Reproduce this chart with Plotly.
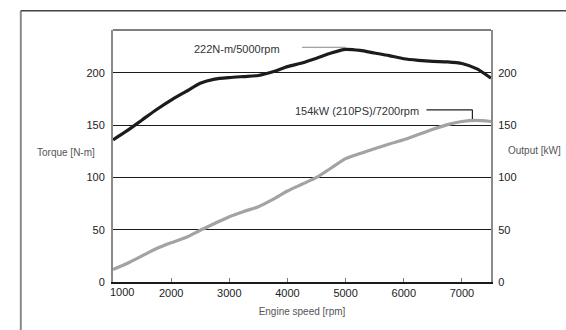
import plotly.graph_objects as go

# ---- data ----
rpm = [1000, 1250, 1500, 1750, 2000, 2250, 2500, 2750, 3000, 3250, 3500, 3750,
       4000, 4250, 4500, 4750, 5000, 5250, 5500, 5750, 6000, 6250, 6500, 6750,
       7000, 7250, 7500]
torque = [136, 145, 155, 165, 174, 182, 190, 194, 195.5, 196.5, 197.5, 201,
          206, 209.5, 214, 219, 222.5, 221.5, 219, 216.5, 213.5, 212, 211, 210.5,
          209, 204, 195]
power = [12, 18, 25, 32, 37.5, 42.5, 49.5, 56, 62.5, 67.5, 72, 79,
         87, 93.5, 100, 109, 118, 123, 127.5, 132, 136, 141, 146, 150.5,
         153.5, 154.5, 153.5]
y_ticks = [0, 50, 100, 150, 200]
x_ticks = [2000, 3000, 4000, 5000, 6000, 7000]
x_first_label = 1000
torque_note = "222N-m/5000rpm"
torque_peak = (5000, 224.5)
power_note = "154kW (210PS)/7200rpm"
power_peak = (7180, 156)

FONT = "Liberation Sans, Arial, Helvetica, sans-serif"

fig = go.Figure()
fig.add_trace(go.Scatter(x=rpm, y=power, mode="lines", yaxis="y2",
                         line=dict(color="#a3a3a3", width=3.2, shape="spline", smoothing=0.6),
                         hoverinfo="skip", showlegend=False))
fig.add_trace(go.Scatter(x=rpm, y=torque, mode="lines",
                         line=dict(color="#1c1c1c", width=3.2, shape="spline", smoothing=0.6),
                         hoverinfo="skip", showlegend=False))

yr = [0, 241]
fig.update_layout(
    width=566, height=330,
    margin=dict(l=113, r=75, t=30, b=48),
    paper_bgcolor="white", plot_bgcolor="white",
    font=dict(family=FONT, size=11, color="#222"),
    xaxis=dict(range=[1000, 7500], tickvals=x_ticks, ticks="inside", ticklen=4,
               tickcolor="#777", tickwidth=1, showgrid=False, zeroline=False,
               showline=True, linecolor="#1a1a1a", linewidth=2,
               tickfont=dict(size=11, color="#222"),
               title=dict(text="Engine speed [rpm]", font=dict(size=10, color="#555"), standoff=10)),
    yaxis=dict(range=yr, tickvals=y_ticks, showgrid=True, gridcolor="#1a1a1a", gridwidth=1,
               zeroline=False, showline=True, linecolor="#8a8a8a", linewidth=2,
               ticks="", ticklabelstandoff=4, tickfont=dict(size=11, color="#222")),
    yaxis2=dict(range=yr, tickvals=y_ticks, overlaying="y", side="right", showgrid=False,
                zeroline=False, showline=True, linecolor="#8a8a8a", linewidth=2,
                ticks="", ticklabelstandoff=3, tickfont=dict(size=11, color="#222")),
    shapes=[
        # plot top border
        dict(type="line", xref="paper", yref="paper", x0=0, x1=1, y0=1, y1=1,
             line=dict(color="#555", width=1.5)),
        # outer frame
        dict(type="line", xref="paper", yref="paper", x0=-0.2439, x1=-0.2439, y0=-0.3, y1=1.0765,
             line=dict(color="#8a8a8a", width=2)),
        dict(type="line", xref="paper", yref="paper", x0=-0.2439, x1=1.3, y0=1.0765, y1=1.0765,
             line=dict(color="#444", width=1.5)),
        # torque leader
        dict(type="line", xref="x", yref="y", x0=4250, x1=torque_peak[0],
             y0=torque_peak[1], y1=torque_peak[1], line=dict(color="#888", width=1)),
        # power bracket
        dict(type="line", xref="x", yref="y", x0=6390, x1=power_peak[0],
             y0=164.7, y1=164.7, line=dict(color="#222", width=1.2)),
        dict(type="line", xref="x", yref="y", x0=power_peak[0], x1=power_peak[0],
             y0=164.7, y1=power_peak[1], line=dict(color="#222", width=1.2)),
    ],
    annotations=[
        dict(text=torque_note, x=3910, y=223, xref="x", yref="y", xanchor="right",
             yanchor="middle", showarrow=False, font=dict(size=11, color="#333")),
        dict(text=power_note, x=6303, y=163.8, xref="x", yref="y", xanchor="right",
             yanchor="middle", showarrow=False, font=dict(size=11, color="#333")),
        dict(text="Torque [N-m]", x=-0.124, y=0.5125, xref="paper", yref="paper",
             xanchor="center", yanchor="middle", showarrow=False,
             font=dict(size=10, color="#555")),
        dict(text="Output [kW]", x=1.115, y=0.520, xref="paper", yref="paper",
             xanchor="center", yanchor="middle", showarrow=False,
             font=dict(size=10, color="#555")),
        dict(text=str(x_first_label), x=x_first_label, y=0, xref="x", yref="paper",
             xanchor="center", yanchor="top", xshift=9, yshift=-2, showarrow=False,
             font=dict(size=11, color="#222")),
    ],
)

fig.write_html("out.html", config={"displayModeBar": False},
               post_script="document.body.style.margin='0';")
